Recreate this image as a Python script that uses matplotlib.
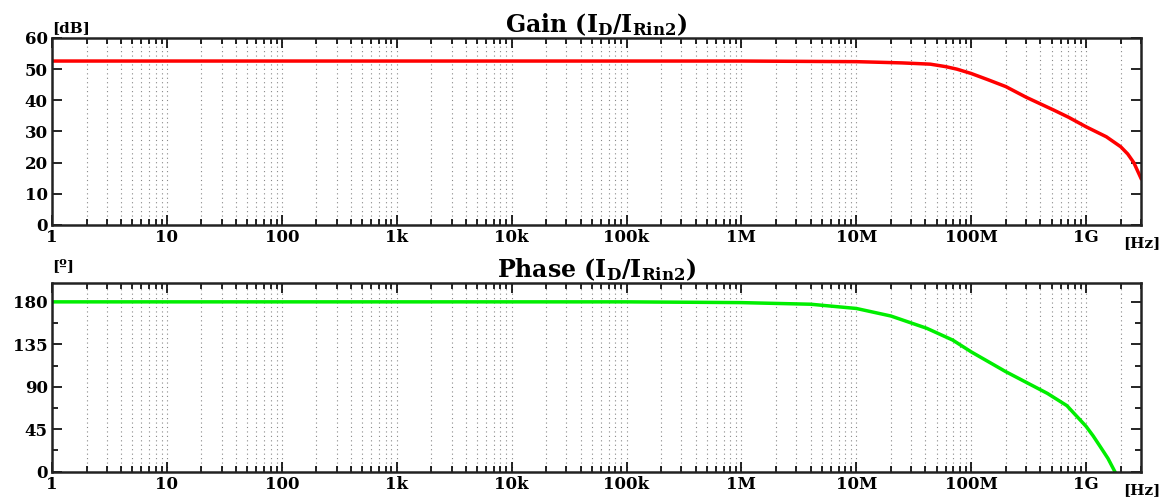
import matplotlib

matplotlib.use("Agg")
import matplotlib.pyplot as plt
from matplotlib.ticker import FixedLocator, LogLocator, NullFormatter

# values (frequency in Hz)
gain_f = [1, 1e6, 3.2e6, 1e7, 1.6e7, 2.5e7, 4.4e7, 6e7, 7.5e7, 1e8, 1.4e8,
          2e8, 3e8, 5.2e8, 7e8, 1e9, 1.5e9, 2e9, 2.3e9, 2.6e9, 3e9]
gain_db = [52.6, 52.6, 52.5, 52.4, 52.2, 52.0, 51.6, 50.8, 50.0, 48.6, 46.6,
           44.4, 41.0, 36.9, 34.6, 31.5, 28.3, 25.1, 22.8, 20.0, 15.0]

phase_f = [1, 1e5, 4.4e5, 1e6, 4e6, 1e7, 2e7, 4.1e7, 6.9e7, 1e8, 2e8,
           4.6e8, 6.8e8, 1e9, 1.15e9, 1.32e9, 1.55e9, 1.78e9]
phase_deg = [180, 180, 179.5, 179.2, 177.5, 173, 165, 152, 139.5, 127, 106,
             83, 70, 48, 38, 27, 14, 0]

x_ticks = [1, 10, 100, 1e3, 1e4, 1e5, 1e6, 1e7, 1e8, 1e9]
x_labels = ["1", "10", "100", "1k", "10k", "100k", "1M", "10M", "100M", "1G"]

plt.rcParams["mathtext.default"] = "regular"
FONT = dict(family="DejaVu Serif", weight="bold")

fig = plt.figure(figsize=(11.76, 4.97), dpi=100)
ax_g = fig.add_axes([0.0442, 0.5473, 0.926, 0.3763])
ax_p = fig.add_axes([0.0442, 0.0509, 0.926, 0.3797])


def style(ax):
    ax.set_xscale("log")
    ax.set_xlim(1, 3e9)
    ax.xaxis.set_major_locator(FixedLocator(x_ticks))
    ax.set_xticklabels(x_labels, **FONT, fontsize=12)
    ax.xaxis.set_minor_locator(LogLocator(base=10, subs=range(2, 10), numticks=20))
    ax.xaxis.set_minor_formatter(NullFormatter())
    ax.grid(True, which="both", axis="x", color="#888888", linestyle=(0, (1, 3)),
            linewidth=0.8)
    ax.tick_params(which="both", direction="in", top=True, right=True,
                   width=1.2, colors="black")
    ax.tick_params(which="major", length=7, pad=3)
    ax.tick_params(which="minor", length=4)
    for s in ax.spines.values():
        s.set_linewidth(1.8)
        s.set_color("#222222")
    for lab in ax.get_yticklabels():
        lab.set_fontfamily("DejaVu Serif")
        lab.set_fontweight("bold")
        lab.set_fontsize(12)


ax_g.plot(gain_f, gain_db, color="#ff0000", linewidth=2.5, solid_joinstyle="round")
ax_g.set_ylim(0, 60)
ax_g.set_yticks(range(0, 61, 10))
style(ax_g)
ax_g.set_title(r"Gain (I$_D$/I$_{Rin2}$)", **FONT, fontsize=17, pad=2)
fig.text(0.0442, 0.935, "[dB]", **FONT, fontsize=11)
fig.text(0.955, 0.524, "[Hz]", **FONT, fontsize=11, va="top")

ax_p.plot(phase_f, phase_deg, color="#00ee00", linewidth=2.5, solid_joinstyle="round")
ax_p.set_ylim(0, 200)
ax_p.set_yticks([0, 45, 90, 135, 180])
ax_p.yaxis.set_minor_locator(FixedLocator([22.5, 67.5, 112.5, 157.5]))
style(ax_p)
ax_p.set_title(r"Phase (I$_D$/I$_{Rin2}$)", **FONT, fontsize=17, pad=2)
fig.text(0.0442, 0.457, "[º]", **FONT, fontsize=11)
fig.text(0.955, 0.028, "[Hz]", **FONT, fontsize=11, va="top")

fig.savefig("out.png", dpi=100)
